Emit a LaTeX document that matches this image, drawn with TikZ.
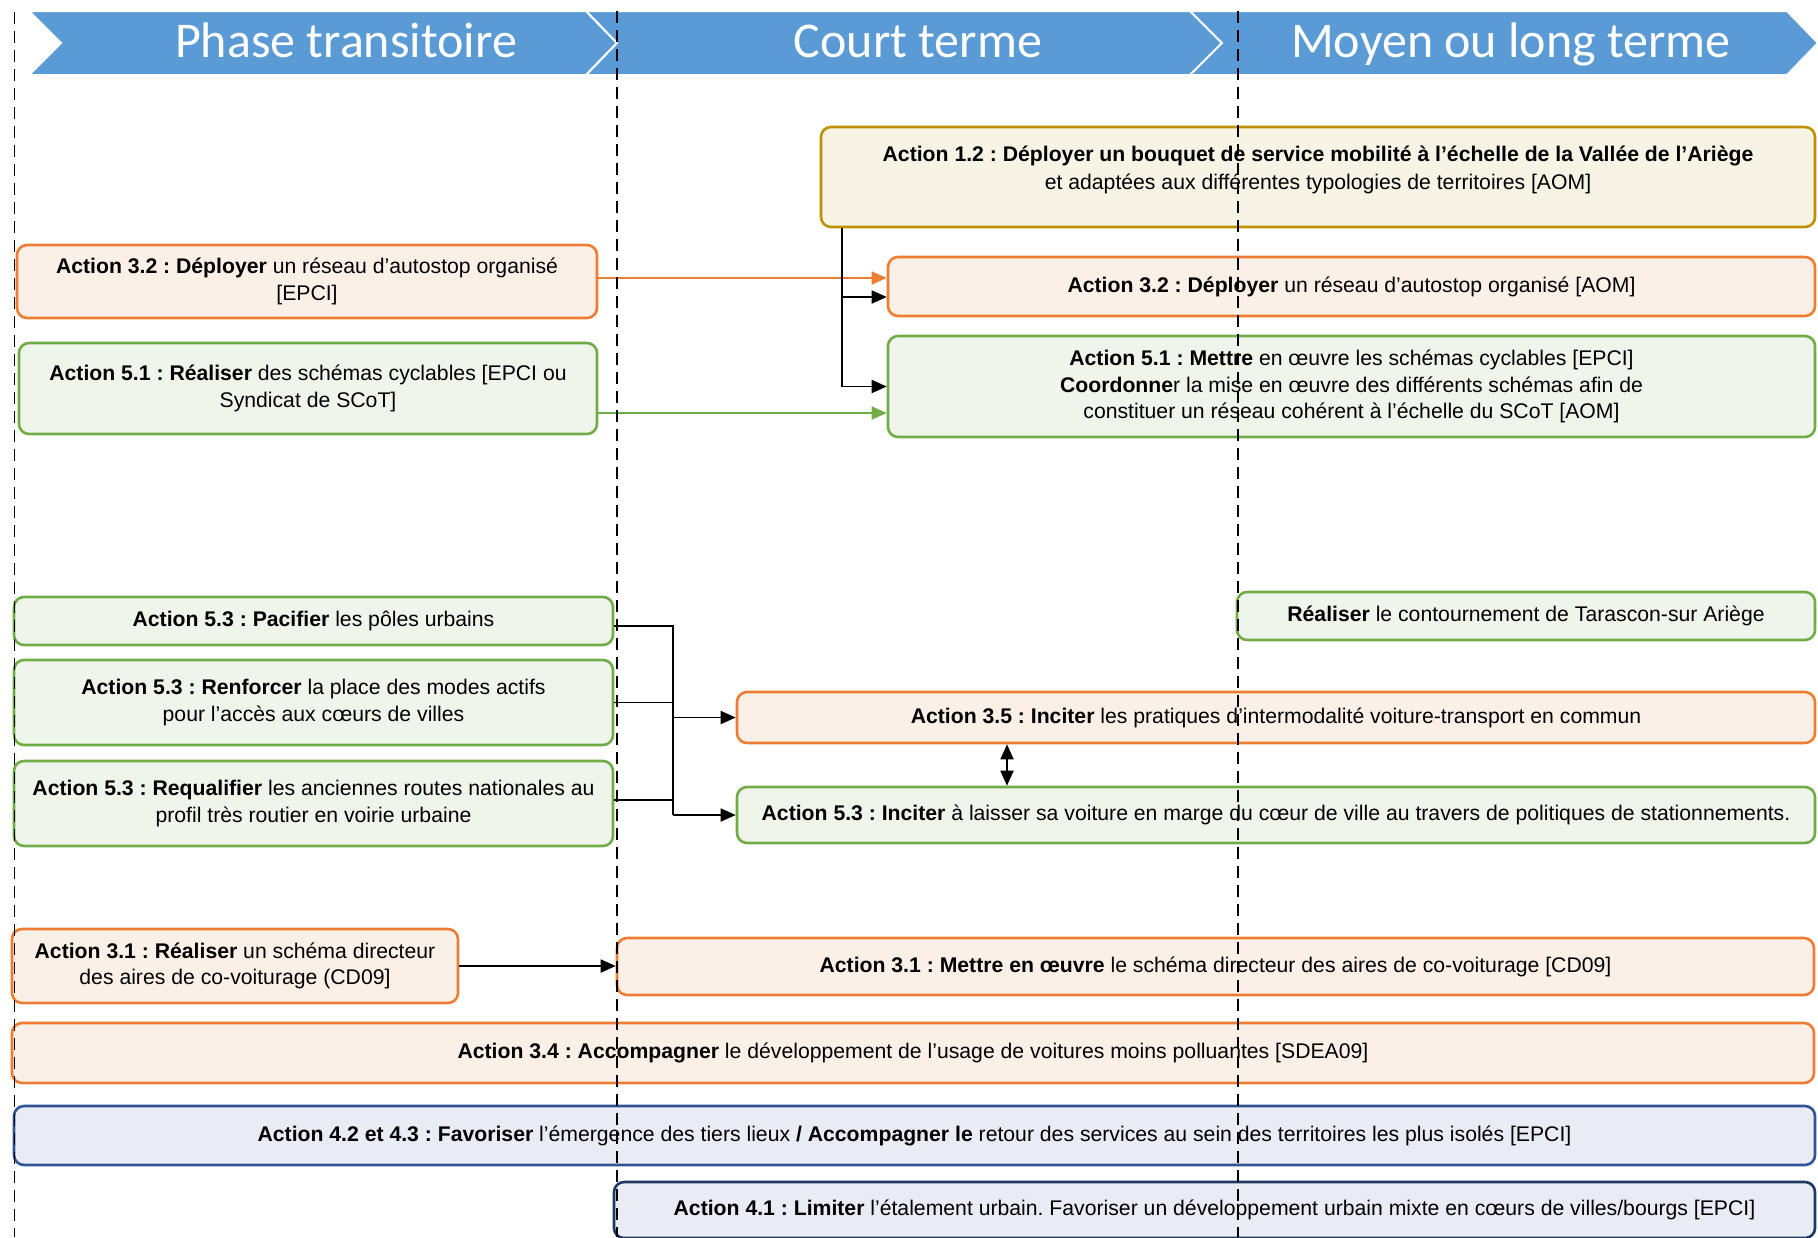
\documentclass[tikz,border=0pt]{standalone}
\usepackage{fontspec}
\setmainfont{Liberation Sans}
\newfontfamily\hdrfont{Carlito}
\usetikzlibrary{arrows.meta}
\definecolor{hblue}{HTML}{5B9BD5}
\definecolor{orline}{HTML}{ED7D31}
\definecolor{orfill}{HTML}{FBF0E8}
\definecolor{grline}{HTML}{70AD47}
\definecolor{grfill}{HTML}{EFF5EA}
\definecolor{gdline}{HTML}{BF9000}
\definecolor{gdfill}{HTML}{F8F4E5}
\definecolor{blline}{HTML}{2F5597}
\definecolor{nvline}{HTML}{1F3864}
\definecolor{blfill}{HTML}{E9ECF5}
\tikzset{
  abox/.style={draw, rounded corners=5pt, line width=1.3pt, align=center, inner sep=2pt,
    font=\fontsize{10.6}{13.3}\selectfont\frenchspacing},
  orbox/.style={abox, draw=orline, fill=orfill},
  grbox/.style={abox, draw=grline, fill=grfill},
  gdbox/.style={abox, draw=gdline, fill=gdfill},
  blbox/.style={abox, draw=blline, fill=blfill},
  nvbox/.style={abox, draw=nvline, fill=blfill},
  boxtext/.style={align=center, inner sep=0pt, font=\fontsize{10.6}{14}\selectfont\frenchspacing},
  chev/.style={fill=hblue, draw=white, line width=1pt},
  hdr/.style={text=white, font=\hdrfont\fontsize{25}{30}\selectfont, anchor=base, inner sep=0pt},
  conn/.style={line width=0.9pt},
  arr/.style={conn, -{Triangle[length=7.5pt,width=6.5pt]}},
  dblarr/.style={conn, {Triangle[length=7.5pt,width=6.5pt]}-{Triangle[length=7.5pt,width=6.5pt]}},
  dashline/.style={line width=0.9pt, dash pattern=on 6pt off 3.5pt},
}
\begin{document}
\frenchspacing
\begin{tikzpicture}[x=0.5pt,y=-0.5pt]
\useasboundingbox (0,0) rectangle (1818,1237);
\clip (0,0) rectangle (1818,1237);

% header chevrons
\draw[chev] (29,11) -- (586,11) -- (617,43) -- (586,75) -- (29,75) -- (61,43) -- cycle;
\draw[chev] (586,11) -- (1190,11) -- (1222,43) -- (1190,75) -- (586,75) -- (617,43) -- cycle;
\draw[chev] (1190,11) -- (1787,11) -- (1818,43) -- (1787,75) -- (1190,75) -- (1222,43) -- cycle;
\node[hdr] (h1) at (346,57) {Phase transitoire};
\node[hdr] (h2) at (918,57) {Court terme};
\node[hdr] (h3) at (1511,57) {Moyen ou long terme};

% boxes
\node[gdbox, minimum width=497pt, minimum height=50pt] (A) at (1318,177) {};
\node[boxtext] (Atxt) at (1318,170) {\textbf{Action 1.2 : Déployer un bouquet de service mobilité à l’échelle de la Vallée de l’Ariège}\\et adaptées aux différentes typologies de territoires [AOM]};

\node[orbox, minimum width=290pt, minimum height=36.5pt] (B) at (307,281.5) {\textbf{Action 3.2 : Déployer} un réseau d’autostop organisé\\{}[EPCI]};
\node[grbox, minimum width=289pt, minimum height=45.5pt] (C) at (308,388.5) {\textbf{Action 5.1 : Réaliser} des schémas cyclables [EPCI ou\\Syndicat de SCoT]};
\node[orbox, minimum width=463.5pt, minimum height=29.5pt] (D) at (1351.5,286.5) {\textbf{Action 3.2 : Déployer} un réseau d’autostop organisé [AOM]};
\node[grbox, minimum width=463.5pt, minimum height=50.5pt] (E) at (1351.5,386.5) {\textbf{Action 5.1 : Mettre} en œuvre les schémas cyclables [EPCI]\\\textbf{Coordonne}r la mise en œuvre des différents schémas afin de\\constituer un réseau cohérent à l’échelle du SCoT [AOM]};

\node[grbox, minimum width=289pt, minimum height=24pt] (F) at (1526,616) {\textbf{Réaliser} le contournement de Tarascon-sur Ariège};

\node[grbox, minimum width=299.5pt, minimum height=24pt] (G1) at (313.5,621) {\textbf{Action 5.3 : Pacifier} les pôles urbains};
\node[grbox, minimum width=299.5pt, minimum height=42.5pt] (G2) at (313.5,702.5) {\textbf{Action 5.3 : Renforcer} la place des modes actifs\\pour l’accès aux cœurs de villes};
\node[grbox, minimum width=299.5pt, minimum height=42.5pt] (G3) at (313.5,803.5) {\textbf{Action 5.3 : Requalifier} les anciennes routes nationales au\\profil très routier en voirie urbaine};

\node[orbox, minimum width=539pt, minimum height=25.5pt] (H) at (1276,717.5) {\textbf{Action 3.5 : Inciter} les pratiques d’intermodalité voiture-transport en commun};
\node[grbox, minimum width=539pt, minimum height=28pt] (I) at (1276,815) {\textbf{Action 5.3 : Inciter} à laisser sa voiture en marge du cœur de ville au travers de politiques de stationnements.};

\node[orbox, minimum width=223pt, minimum height=37pt] (J) at (235,966) {\textbf{Action 3.1 : Réaliser} un schéma directeur\\des aires de co-voiturage (CD09]};
\node[orbox, minimum width=598.5pt, minimum height=28.5pt] (K) at (1215.5,966.5) {\textbf{Action 3.1 : Mettre en œuvre} le schéma directeur des aires de co-voiturage [CD09]};
\node[orbox, minimum width=901pt, minimum height=30pt] (L) at (913,1053) {\textbf{Action 3.4 : Accompagner} le développement de l’usage de voitures moins polluantes [SDEA09]};
\node[blbox, minimum width=900.5pt, minimum height=29.5pt] (M) at (914.5,1135.5) {\textbf{Action 4.2 et 4.3 : Favoriser} l’émergence des tiers lieux \textbf{/ Accompagner le} retour des services au sein des territoires les plus isolés [EPCI]};
\node[nvbox, minimum width=600.5pt, minimum height=28pt] (N) at (1214.5,1210) {\textbf{Action 4.1 : Limiter} l’étalement urbain. Favoriser un développement urbain mixte en cœurs de villes/bourgs [EPCI]};

% connectors
\draw[arr, orline] ([yshift=1.75pt]B.east) -- ([yshift=1.75pt]B.east -| D.west);
\draw[arr, grline] ([yshift=-12.25pt]C.east) -- ([yshift=-12.25pt]C.east -| E.west);
\coordinate (aout) at ([xshift=11pt]A.south west);
\draw[arr] (aout) |- ([yshift=-5.25pt]D.west);
\draw[arr] (aout) |- (E.west);

\coordinate (bus) at (673,0);
\draw[conn] ([yshift=-2.5pt]G1.east) -| (I.west -| bus);
\draw[conn] (G2.east) -- (G2.east -| bus);
\draw[conn] ([yshift=1.75pt]G3.east) -- ([yshift=1.75pt]G3.east -| bus);
\draw[arr] (H.west -| bus) -- (H.west);
\draw[arr] (I.west -| bus) -- (I.west);

\coordinate (dx) at (1007,0);
\draw[dblarr] (H.south -| dx) -- (I.north -| dx);

\draw[arr] (J.east) -- (J.east -| K.west);

% dashed separators
\draw[dashline] (14.5,12) -- (14.5,1237);
\draw[dashline] (617,11) -- (617,1237);
\draw[dashline] (1238,11) -- (1238,1237);
\end{tikzpicture}
\end{document}
